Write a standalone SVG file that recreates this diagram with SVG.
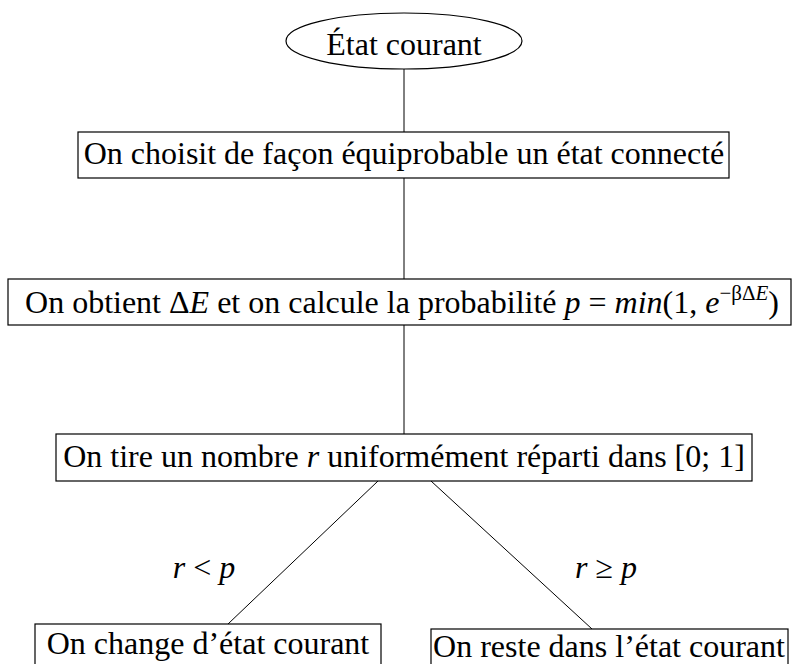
<svg xmlns="http://www.w3.org/2000/svg" width="792" height="664" viewBox="0 0 792 664">
<style>
.t{font-family:"Liberation Serif","Times New Roman",serif;font-size:32px;fill:#000;text-anchor:middle}
.i{font-style:italic}
.n{fill:#fff;stroke:#000;stroke-width:1.2}
.c{stroke:#000;stroke-width:1;fill:none}
</style>
<rect width="792" height="664" fill="#fff"/>
<g id="connectors">
<line class="c" x1="404" y1="69" x2="404" y2="132"/>
<line class="c" x1="404" y1="178" x2="404" y2="279"/>
<line class="c" x1="404" y1="325" x2="404" y2="434"/>
<line class="c" x1="378" y1="481" x2="228" y2="624"/>
<line class="c" x1="431" y1="481" x2="592" y2="629"/>
<text class="t" x="204" y="578"><tspan class="i">r</tspan> &lt; <tspan class="i">p</tspan></text>
<text class="t" x="606" y="578"><tspan class="i">r</tspan> ≥ <tspan class="i">p</tspan></text>
</g>
<g id="n0">
<ellipse class="n" cx="404" cy="41" rx="118" ry="28"/>
<text class="t" x="404" y="55">État courant</text>
</g>
<g id="n1">
<rect class="n" x="78" y="132" width="651" height="46"/>
<text class="t" x="404" y="164">On choisit de façon équiprobable un état connecté</text>
</g>
<g id="n2">
<rect class="n" x="8" y="279" width="783" height="46"/>
<text class="t" x="402" y="313">On obtient Δ<tspan class="i">E</tspan> et on calcule la probabilité <tspan class="i">p</tspan> = <tspan class="i">min</tspan>(1, <tspan class="i">e</tspan><tspan font-size="21" dy="-13">−βΔ</tspan><tspan font-size="21" class="i">E</tspan><tspan dy="13">)</tspan></text>
</g>
<g id="n3">
<rect class="n" x="56" y="434" width="696" height="47"/>
<text class="t" x="404" y="467">On tire un nombre <tspan class="i">r</tspan> uniformément réparti dans [0; 1]</text>
</g>
<g id="n4">
<rect class="n" x="35" y="624" width="346" height="46"/>
<text class="t" x="208" y="654">On change d’état courant</text>
</g>
<g id="n5">
<rect class="n" x="431" y="629" width="357" height="46"/>
<text class="t" x="609" y="657">On reste dans l’état courant</text>
</g>
</svg>
